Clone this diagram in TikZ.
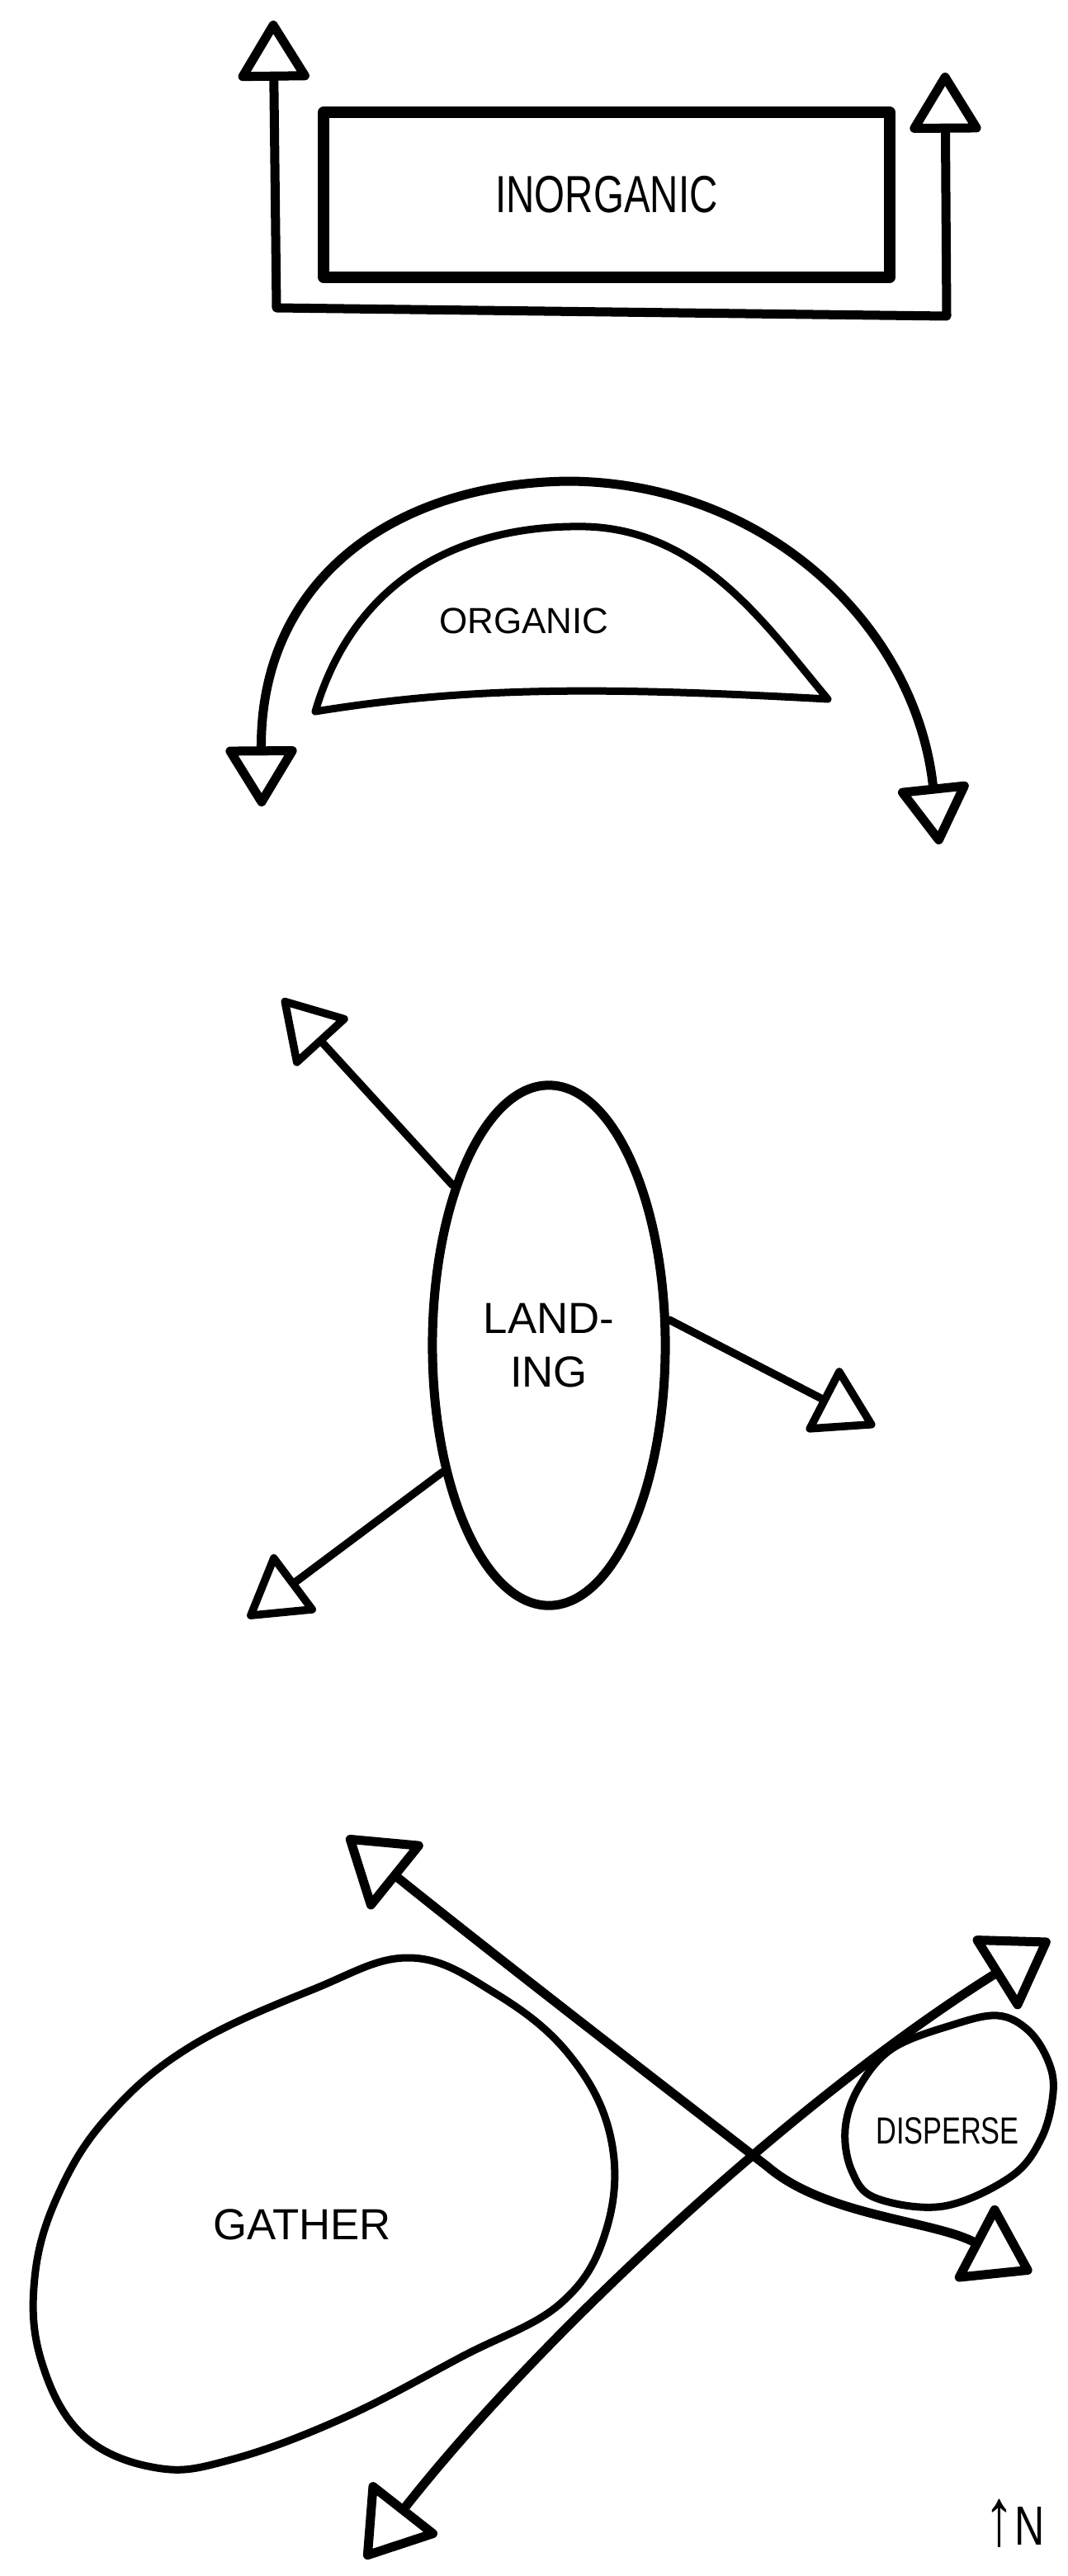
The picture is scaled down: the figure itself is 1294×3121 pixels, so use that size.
\documentclass[tikz,border=0pt]{standalone}
\usepackage{fontspec}
\newfontfamily\hand{Liberation Sans}
\newfontfamily\handnarrow[FakeStretch=0.75]{Liberation Sans}
\usetikzlibrary{arrows.meta,shapes.geometric}

\tikzset{
  ink/.style={line width=0.11cm, line cap=round, line join=round},
  heavy/.style={ink, line width=0.14cm},
  fine/.style={ink, line width=0.09cm},
  tipsmall/.style={>={Triangle[open, round, length=0.78cm, width=0.92cm]}},
  tipbig/.style={>={Triangle[open, round, length=0.85cm, width=1.1cm]}},
}

\begin{document}
\begin{tikzpicture}[x=0.01cm, y=-0.01cm]

    \useasboundingbox (0,0) rectangle (1294,3121);

    % ==================================================
    % INORGANIC
    % ==================================================

    % block
    \node[draw, heavy, minimum width=6.86cm, minimum height=1.99cm,
          font=\handnarrow\fontsize{18}{20}\selectfont] (inorg) at (735,236) {INORGANIC};

    % ends of the U
    \coordinate (inL)  at (331,25);
    \coordinate (inLb) at (335,373);
    \coordinate (inRb) at (1147,383);
    \coordinate (inR)  at (1145,88);

    % U with two arrows up
    \draw[ink, tipsmall, <->] (inL) -- (inLb) -- (inRb) -- (inR);

    % ==================================================
    % ORGANIC
    % ==================================================

    % dome
    \draw[fine] (1003,847) .. controls (700,830) and (550,835) .. (382,862)
      .. controls (430,700) and (560,635) .. (710,638)
      .. controls (850,642) and (930,760) .. cycle;
    \node[font=\hand\fontsize{12.5}{14}\selectfont] (org) at (635,752) {ORGANIC};

    % arc over the dome
    \coordinate (orgL)   at (317,977);
    \coordinate (orgTop) at (690,583);
    \coordinate (orgR)   at (1138,1023);
    \draw[ink, tipsmall, <->] (orgL) .. controls (315,700) and (480,585) .. (orgTop)
      .. controls (930,585) and (1110,760) .. (orgR);

    % ==================================================
    % LANDING
    % ==================================================

    \node[ellipse, draw, ink, minimum width=2.82cm, minimum height=6.3cm,
          align=center, font=\hand\fontsize{15}{18.5}\selectfont] (land) at (665,1630) {LAND-\\ING};

    % free ends
    \coordinate (landNW) at (342,1210);
    \coordinate (landE)  at (1060,1728);
    \coordinate (landSW) at (300,1960);

    \draw[ink, line width=0.095cm, tipsmall, ->] (land.121) -- (landNW);
    \draw[ink, line width=0.095cm, tipsmall, ->] (land.12) -- (landE);
    \draw[ink, line width=0.095cm, tipsmall, ->] (land.230) -- (landSW);

    % ==================================================
    % GATHER / DISPERSE
    % ==================================================

    % gather
    \draw[fine] plot[smooth cycle, tension=0.65] coordinates {
      (497,2372) (600,2415) (690,2490) (740,2590) (735,2700) (680,2790)
      (560,2855) (415,2930) (280,2980) (190,2990) (100,2950) (50,2860)
      (42,2760) (70,2660) (130,2565) (230,2480) (380,2410)};
    \node[font=\hand\fontsize{15}{17}\selectfont] (gather) at (366,2695) {GATHER};

    % disperse
    \draw[fine] plot[smooth cycle, tension=0.6] coordinates {
      (1209,2442) (1246,2460) (1270,2497) (1276,2535) (1262,2590)
      (1225,2637) (1143,2673) (1061,2663) (1032,2630) (1024,2580)
      (1040,2530) (1081,2482) (1155,2453)};
    \node[font=\handnarrow\fontsize{13}{15}\selectfont] (disp) at (1148,2582) {DISPERSE};

    % crossing arrows
    \coordinate (gNW) at (420,2225);
    \coordinate (gX)  at (930,2625);
    \coordinate (gSE) at (1250,2753);
    \draw[ink, tipbig, <->] (gNW) .. controls (600,2370) and (820,2540) .. (gX)
      .. controls (1000,2685) and (1130,2690) .. (gSE);

    \coordinate (dSW) at (442,3100);
    \coordinate (dNE) at (1272,2350);
    \draw[ink, tipbig, <->] (dSW) .. controls (650,2835) and (960,2545) .. (dNE);

    % north
    \node[font=\handnarrow\fontsize{19}{21}\selectfont] (north) at (1229,3057)
      {{\fontsize{28}{28}\selectfont ↑}N};

  \end{tikzpicture}
\end{document}
